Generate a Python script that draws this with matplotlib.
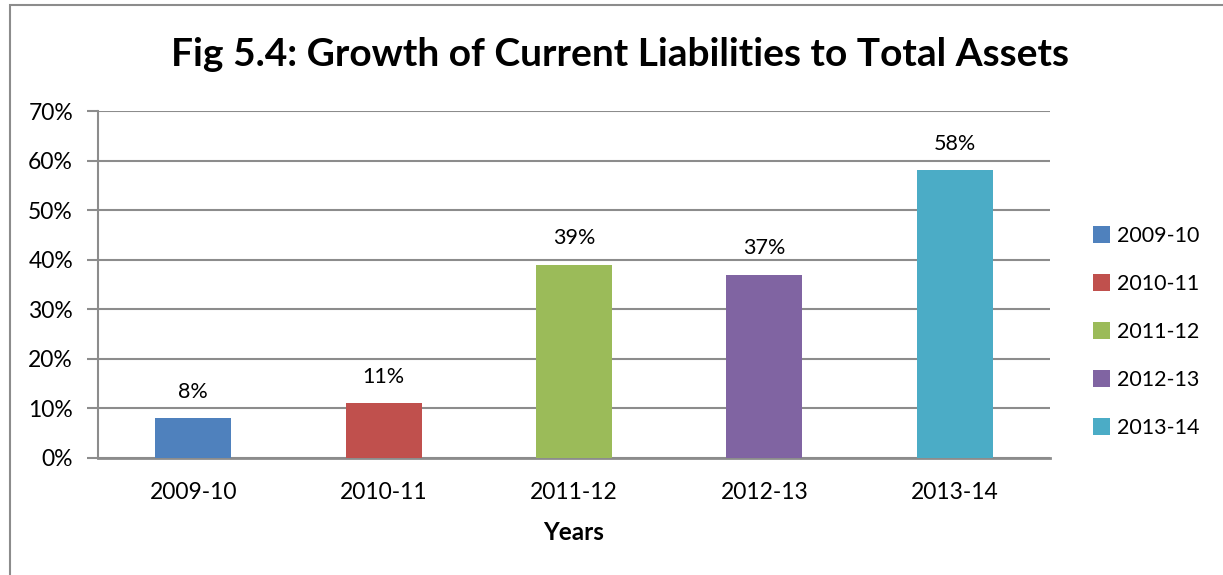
import matplotlib
matplotlib.use("Agg")
import matplotlib.pyplot as plt
from matplotlib.patches import Patch, Rectangle

years = ["2009-10", "2010-11", "2011-12", "2012-13", "2013-14"]
values = [8, 11, 39, 37, 58]
colors = ["#4F81BD", "#C0504D", "#9BBB59", "#8064A2", "#4BACC6"]
y_ticks = [0, 10, 20, 30, 40, 50, 60, 70]

plt.rcParams["font.family"] = ["Lato", "DejaVu Sans"]
GRID = "#8c8c8c"

fig = plt.figure(figsize=(12.23, 5.75), dpi=100)
ax = fig.add_axes([98 / 1223, 1 - 458 / 575, (1050 - 98) / 1223, (458 - 111) / 575])

# outer chart border
fig.patches.append(Rectangle((10 / 1223, -0.1), 1.2, 1 - 5 / 575 + 0.1,
                             transform=fig.transFigure, fill=False,
                             edgecolor=GRID, linewidth=1.5))

x = range(len(years))
bars = ax.bar(x, values, width=0.4, color=colors, zorder=3)
for b, v in zip(bars, values):
    ax.annotate(f"{v}%", (b.get_x() + b.get_width() / 2, v),
                xytext=(0, 12), textcoords="offset points",
                ha="center", va="bottom", fontsize=15.5)

ax.set_xlim(-0.5, len(years) - 0.5)
ax.set_ylim(0, 70)
ax.set_yticks(y_ticks)
ax.set_yticklabels([f"{t}%" for t in y_ticks], fontsize=16.5)
ax.set_xticks(list(x))
ax.set_xticklabels(years, fontsize=16.5)
ax.tick_params(axis="x", length=0, pad=17)
ax.tick_params(axis="y", length=8, width=1.5, color=GRID, pad=10)
ax.grid(True, axis="y", color=GRID, linewidth=1.5, zorder=0)
for side in ["top", "right"]:
    ax.spines[side].set_visible(False)
ax.spines["left"].set_color(GRID)
ax.spines["left"].set_linewidth(1.5)
ax.spines["bottom"].set_color(GRID)
ax.spines["bottom"].set_linewidth(2)
ax.set_xlabel("Years", fontsize=17.5, fontweight="bold", labelpad=13)

fig.text(620 / 1223, 1 - 55 / 575, "Fig 5.4: Growth of Current Liabilities to Total Assets",
         ha="center", va="center", fontsize=28, fontweight="bold")

handles = [Patch(facecolor=c, label=y) for c, y in zip(colors, years)]
fig.legend(handles=handles, loc="center left",
           bbox_to_anchor=(1074 / 1223, 1 - 332 / 575), frameon=False,
           fontsize=15.5, handlelength=0.75, handleheight=0.8,
           handletextpad=0.35, labelspacing=1.3)

fig.savefig("out.png", dpi=100)
